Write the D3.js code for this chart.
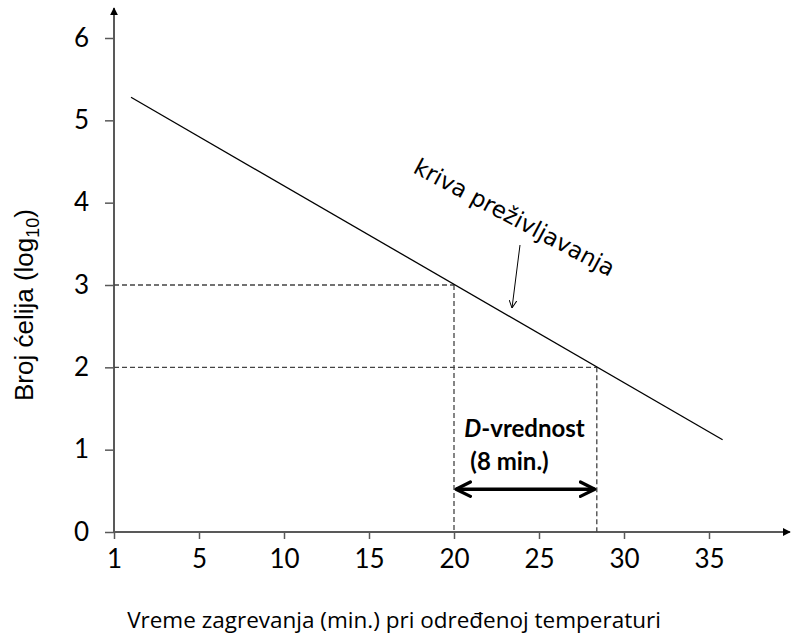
<!DOCTYPE html>
<html>
<head>
<meta charset="utf-8">
<script src="https://cdn.jsdelivr.net/npm/d3@7"></script>
<style>
  body { margin: 0; background: #fff; }
  svg { display: block; }
  text { font-family: Lato, "Open Sans", sans-serif; fill: #000; }
</style>
</head>
<body>
<svg id="chart" width="791" height="636"></svg>
<script>
// Survival curve: heating time (min) vs. log10 cell count
const curveTime = [1, 35.8];
const curveLog = [5.28, 1.12];

// D-value reference points on the curve
const refTime = [20, 28.4];
const refLog = [3, 2];
const dArrowLevel = 0.52;

// Axis ticks
const xTickValues = [0, 5, 10, 15, 20, 25, 30, 35];
const xTickLabels = ["1", "5", "10", "15", "20", "25", "30", "35"];
const yTickValues = [0, 1, 2, 3, 4, 5, 6];

const svg = d3.select("#chart");
const axisColor = "#595959";

const x = d3.scaleLinear().domain([0, 40]).range([114, 794]);
const y = d3.scaleLinear().domain([0, 6]).range([532, 38]);

const defs = svg.append("defs");
defs.append("marker")
  .attr("id", "axisHead").attr("viewBox", "0 0 10 10")
  .attr("refX", 9).attr("refY", 5)
  .attr("markerWidth", 4).attr("markerHeight", 4)
  .attr("orient", "auto")
  .append("path").attr("d", "M0,0 L10,5 L0,10 Z").attr("fill", "#000");
defs.append("marker")
  .attr("id", "thinHead").attr("viewBox", "0 0 10 10")
  .attr("refX", 10).attr("refY", 5)
  .attr("markerWidth", 8).attr("markerHeight", 8)
  .attr("markerUnits", "userSpaceOnUse")
  .attr("orient", "auto")
  .append("path").attr("d", "M0,0 L10,5 L0,10").attr("fill", "none")
  .attr("stroke", "#000").attr("stroke-width", 1.2);
defs.append("marker")
  .attr("id", "boldHead").attr("viewBox", "0 0 10 10")
  .attr("refX", 9).attr("refY", 5)
  .attr("markerWidth", 18).attr("markerHeight", 18)
  .attr("markerUnits", "userSpaceOnUse")
  .attr("orient", "auto-start-reverse")
  .append("path").attr("d", "M1,1 L9,5 L1,9").attr("fill", "none")
  .attr("stroke", "#000").attr("stroke-width", 1.8)
  .attr("stroke-linecap", "round").attr("stroke-linejoin", "round");

// X axis
const xAxis = d3.axisBottom(x)
  .tickValues(xTickValues)
  .tickFormat((d, i) => xTickLabels[i])
  .tickSize(7).tickSizeOuter(0).tickPadding(11);
const gx = svg.append("g").attr("transform", `translate(0,${y(0)})`).call(xAxis);
gx.select(".domain").remove();
gx.selectAll(".tick line").attr("stroke", axisColor).attr("stroke-width", 1.5);
gx.selectAll(".tick text").style("font-size", "26px").attr("fill", "#000");
svg.append("line")
  .attr("x1", x(0) - 1).attr("x2", 790)
  .attr("y1", y(0)).attr("y2", y(0))
  .attr("stroke", axisColor).attr("stroke-width", 2)
  .attr("marker-end", "url(#axisHead)");

// Y axis
const yAxis = d3.axisLeft(y)
  .tickValues(yTickValues)
  .tickFormat(d3.format("d"))
  .tickSize(9).tickSizeOuter(0).tickPadding(16);
const gy = svg.append("g").attr("transform", `translate(${x(0)},0)`).call(yAxis);
gy.select(".domain").remove();
gy.selectAll(".tick line").attr("stroke", axisColor).attr("stroke-width", 1.5);
gy.selectAll(".tick text").style("font-size", "26px").attr("fill", "#000");
svg.append("line")
  .attr("x1", x(0)).attr("x2", x(0))
  .attr("y1", y(0) + 1).attr("y2", 8)
  .attr("stroke", axisColor).attr("stroke-width", 2)
  .attr("marker-end", "url(#axisHead)");

// Dashed guides from the reference points to both axes
const dashStyle = sel => sel.attr("stroke", "#444").attr("stroke-width", 1.3)
  .attr("stroke-dasharray", "5,3").attr("fill", "none");
refTime.forEach((t, i) => {
  svg.append("line")
    .attr("x1", x(0)).attr("x2", x(t))
    .attr("y1", y(refLog[i])).attr("y2", y(refLog[i]))
    .call(dashStyle);
  svg.append("line")
    .attr("x1", x(t)).attr("x2", x(t))
    .attr("y1", y(refLog[i])).attr("y2", y(0))
    .call(dashStyle);
});

// Survival curve
const line = d3.line().x((d, i) => x(curveTime[i])).y((d, i) => y(curveLog[i]));
svg.append("path")
  .datum(curveTime)
  .attr("d", line)
  .attr("fill", "none").attr("stroke", "#000").attr("stroke-width", 1.3);

// Curve label with pointer
svg.append("text")
  .attr("transform", "translate(412,172) rotate(28)")
  .style("font-family", "'DejaVu Sans', sans-serif")
  .style("font-size", "23px")
  .text("kriva preživljavanja");
svg.append("line")
  .attr("x1", 520).attr("y1", 245)
  .attr("x2", 512).attr("y2", 308)
  .attr("stroke", "#000").attr("stroke-width", 1)
  .attr("marker-end", "url(#thinHead)");

// D-value span arrow
svg.append("line")
  .attr("x1", x(refTime[0]) + 2).attr("x2", x(refTime[1]) - 2)
  .attr("y1", y(dArrowLevel)).attr("y2", y(dArrowLevel))
  .attr("stroke", "#000").attr("stroke-width", 3.5)
  .attr("marker-start", "url(#boldHead)")
  .attr("marker-end", "url(#boldHead)");

const dLabel = svg.append("text")
  .attr("x", 524.5).attr("y", 437)
  .attr("text-anchor", "middle")
  .style("font-size", "24px").style("font-weight", "bold");
dLabel.append("tspan").style("font-style", "italic").text("D");
dLabel.append("tspan").text("-vrednost");
svg.append("text")
  .attr("x", 509.5).attr("y", 470)
  .attr("text-anchor", "middle")
  .style("font-size", "24px").style("font-weight", "bold")
  .text("(8 min.)");

// Axis titles
svg.append("text")
  .attr("x", 394).attr("y", 628)
  .attr("text-anchor", "middle")
  .style("font-family", "'Open Sans', sans-serif")
  .style("font-size", "22.5px")
  .text("Vreme zagrevanja (min.) pri određenoj temperaturi");

const yTitle = svg.append("text")
  .attr("transform", "translate(33,305) rotate(-90)")
  .attr("text-anchor", "middle")
  .style("font-family", "'Liberation Sans', Arial, sans-serif")
  .style("font-size", "26px");
yTitle.append("tspan").text("Broj ćelija (log");
yTitle.append("tspan").attr("dy", 6).style("font-size", "18px").text("10");
yTitle.append("tspan").attr("dy", -6).text(")");
</script>
</body>
</html>
